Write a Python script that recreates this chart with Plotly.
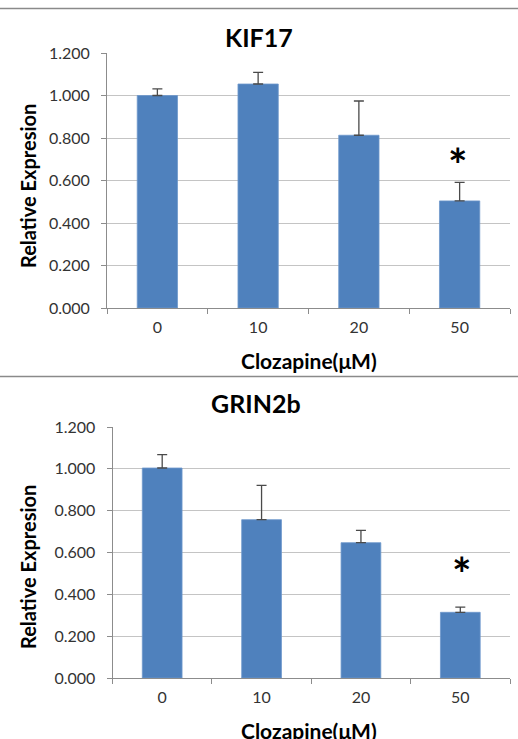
import plotly.graph_objects as go

categories = ["0", "10", "20", "50"]
kif17_values = [1.000, 1.054, 0.813, 0.504]
kif17_errors = [0.031, 0.055, 0.161, 0.087]
grin2b_values = [1.004, 0.757, 0.647, 0.314]
grin2b_errors = [0.064, 0.164, 0.059, 0.025]
y_ticks = [0.0, 0.2, 0.4, 0.6, 0.8, 1.0, 1.2]
star_kif17 = ("50", 0.73)
star_grin2b = ("50", 0.555)

W, H = 518, 739
FONT = "Lato"
BAR = "#4F81BD"

def px(x):
    return x / W

def py(y):
    return 1 - y / H

fig = go.Figure()

for i, (vals, errs) in enumerate([(kif17_values, kif17_errors), (grin2b_values, grin2b_errors)]):
    xa = "x" if i == 0 else "x2"
    ya = "y" if i == 0 else "y2"
    fig.add_trace(go.Bar(
        x=categories, y=vals, xaxis=xa, yaxis=ya,
        marker=dict(color=BAR, line=dict(color="#6F98CB", width=0.8)),
        error_y=dict(type="data", array=errs, symmetric=False,
                     arrayminus=[0] * len(errs), color="#4a4a4a",
                     thickness=1.3, width=5),
        showlegend=False, hoverinfo="skip",
    ))

axis_common = dict(
    type="category", range=[-0.5, 3.5], showgrid=False,
    showline=True, linecolor="#8c8c8c", linewidth=1,
    ticks="outside", tickson="boundaries", ticklen=5, tickcolor="#8c8c8c",
    tickfont=dict(family=FONT, size=16, color="#333333"),
    ticklabelstandoff=5, fixedrange=True, automargin=False,
)
yaxis_common = dict(
    range=[0, 1.2], tickvals=y_ticks, tickformat=".3f",
    showgrid=True, gridcolor="#c4c4c4", gridwidth=1,
    showline=True, linecolor="#8c8c8c", linewidth=1,
    ticks="outside", ticklen=5, tickcolor="#8c8c8c",
    tickfont=dict(family=FONT, size=16, color="#333333"),
    ticklabelstandoff=8, zeroline=False, fixedrange=True, automargin=False,
)

fig.update_layout(
    width=W, height=H,
    margin=dict(l=0, r=0, t=0, b=0, pad=0, autoexpand=False),
    paper_bgcolor="white", plot_bgcolor="white",
    bargap=0.6,
    xaxis=dict(axis_common, domain=[px(107), px(510)], anchor="y"),
    yaxis=dict(yaxis_common, domain=[py(308), py(53)], anchor="x"),
    xaxis2=dict(axis_common, domain=[px(112.5), px(510)], anchor="y2"),
    yaxis2=dict(yaxis_common, domain=[py(678), py(427)], anchor="x2"),
)

for yline in [8.5, 376.5]:
    fig.add_shape(type="line", xref="paper", yref="paper",
                  x0=0, x1=1, y0=py(yline), y1=py(yline),
                  line=dict(color="#8a8a8a", width=1.5))

ann = []
ann.append(dict(text="<b>KIF17</b>", x=px(259), y=py(37), xref="paper", yref="paper",
                showarrow=False, font=dict(family=FONT, size=25, color="black"),
                xanchor="center", yanchor="middle"))
ann.append(dict(text="<b>GRIN2b</b>", x=px(256), y=py(403), xref="paper", yref="paper",
                showarrow=False, font=dict(family=FONT, size=25, color="black"),
                xanchor="center", yanchor="middle"))
for yc in [360, 730]:
    ann.append(dict(text="<b>Clozapine(μM)</b>", x=px(309), y=py(yc), xref="paper", yref="paper",
                    showarrow=False, font=dict(family=FONT, size=21, color="black"),
                    xanchor="center", yanchor="middle"))
for yc in [186, 567]:
    ann.append(dict(text="<b>Relative Expresion</b>", x=px(28), y=py(yc), xref="paper", yref="paper",
                    showarrow=False, textangle=-90, font=dict(family=FONT, size=20, color="black"),
                    xanchor="center", yanchor="middle"))
ann.append(dict(text="<b>*</b>", x=categories.index(star_kif17[0]), y=star_kif17[1],
                xref="x", yref="y", showarrow=False,
                font=dict(family=FONT, size=46, color="black"),
                xanchor="center", yanchor="middle", xshift=-2, yshift=-12))
ann.append(dict(text="<b>*</b>", x=categories.index(star_grin2b[0]), y=star_grin2b[1],
                xref="x2", yref="y2", showarrow=False,
                font=dict(family=FONT, size=46, color="black"),
                xanchor="center", yanchor="middle", xshift=2, yshift=-12))
fig.update_layout(annotations=ann)

fig.write_html("out.html", config={"displayModeBar": False, "staticPlot": True},
               post_script="document.body.style.margin='0';document.body.style.overflow='hidden';")
